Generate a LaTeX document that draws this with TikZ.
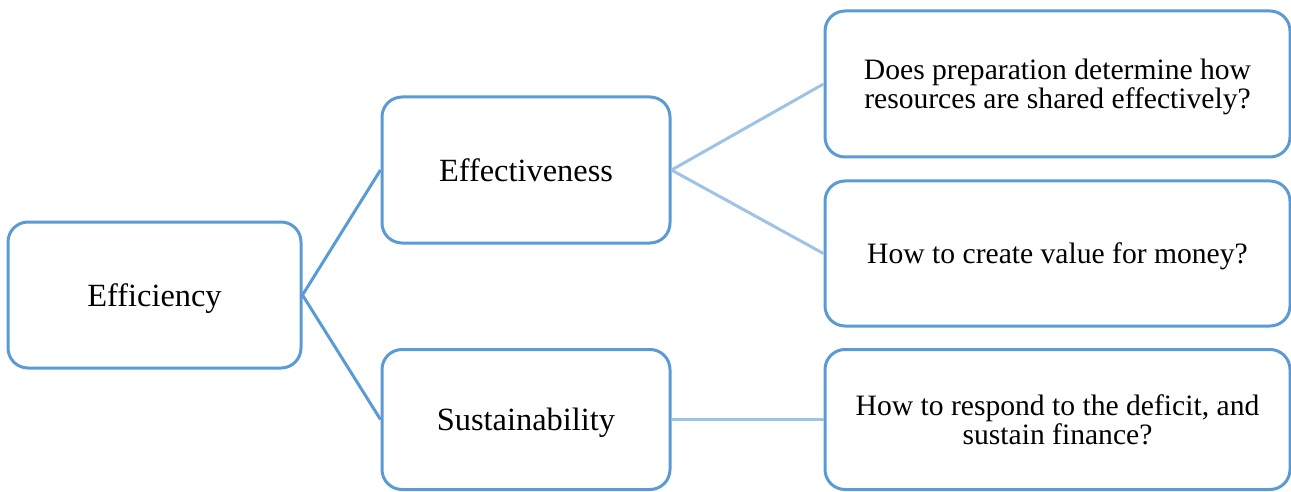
\documentclass[tikz,border=0pt]{standalone}
\usepackage{fontspec}
\setmainfont{Liberation Serif}
\usepackage{xcolor}
\definecolor{boxblue}{RGB}{91,155,213}
\definecolor{lineblue}{RGB}{157,195,230}

\begin{document}
\begin{tikzpicture}[x=0.5pt,y=-0.5pt,
    topic/.style={draw=boxblue,line width=1.5pt,rounded corners=10pt,fill=white,
      align=center,inner sep=0pt,text depth=0pt,font=\fontsize{16.2}{20}\selectfont},
    question/.style={topic,font=\fontsize{14.8}{14.5}\selectfont},
    mainlink/.style={draw=boxblue,line width=1.5pt},
    sublink/.style={draw=lineblue,line width=1.5pt}]
    \useasboundingbox (0,0) rectangle (1291,492);

    \node[topic,minimum width=146.5pt,minimum height=73pt] (eff) at (154.5,295) {Efficiency};
    \node[topic,minimum width=144pt,minimum height=73pt] (effect) at (526,170) {Effectiveness};
    \node[topic,minimum width=144pt,minimum height=70pt] (sust) at (526,419.5) {Sustainability};

    \node[question,minimum width=232.5pt,minimum height=73pt] (prep) at (1057.5,84) {Does preparation determine how\\resources are shared effectively?};
    \node[question,minimum width=232.5pt,minimum height=72.5pt] (value) at (1057.5,253.5) {How to create value for money?};
    \node[question,minimum width=232.5pt,minimum height=70pt] (deficit) at (1057.5,419.5) {How to respond to the deficit, and\\sustain finance?};

    \draw[mainlink] (eff.east) -- (effect.west);
    \draw[mainlink] (eff.east) -- (sust.west);
    \draw[sublink] (effect.east) -- (prep.west);
    \draw[sublink] (effect.east) -- (value.west);
    \draw[sublink] (sust.east) -- (deficit.west);
  \end{tikzpicture}
\end{document}
